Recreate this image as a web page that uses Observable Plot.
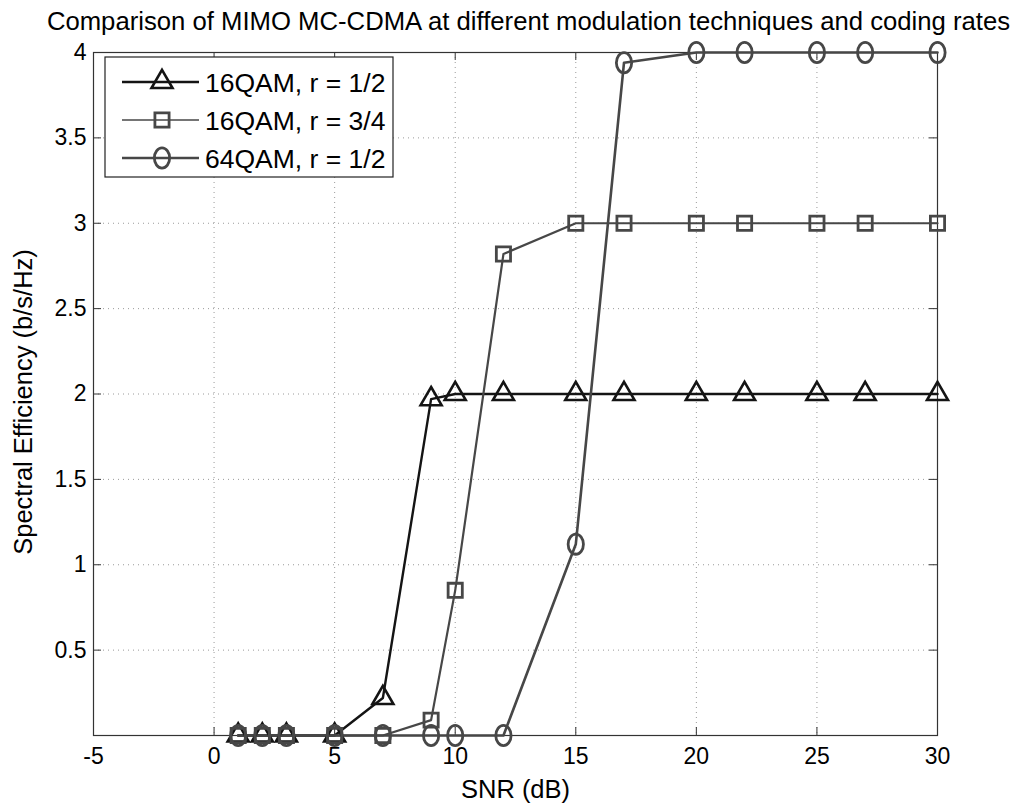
<!DOCTYPE html>
<html>
<head>
<meta charset="utf-8">
<script src="https://cdn.jsdelivr.net/npm/d3@7"></script>
<script src="https://cdn.jsdelivr.net/npm/@observablehq/plot@0.6"></script>
<style>
  html, body { margin: 0; padding: 0; background: #fff; }
  #chart svg { display: block; }
</style>
</head>
<body>
<div id="chart"></div>
<script>
const snr = [1, 2, 3, 5, 7, 9, 10, 12, 15, 17, 20, 22, 25, 27, 30];
const qam16_r12 = [0, 0, 0, 0, 0.22, 1.97, 2, 2, 2, 2, 2, 2, 2, 2, 2];
const qam16_r34 = [0, 0, 0, 0, 0, 0.09, 0.85, 2.82, 3, 3, 3, 3, 3, 3, 3];
const qam64_r12 = [0, 0, 0, 0, 0, 0, 0, 0, 1.12, 3.94, 4, 4, 4, 4, 4];
const seriesNames = ["16QAM, r = 1/2", "16QAM, r = 3/4", "64QAM, r = 1/2"];
const xTicks = [-5, 0, 5, 10, 15, 20, 25, 30];
const yTicks = [0.5, 1, 1.5, 2, 2.5, 3, 3.5, 4];
const yGrid = [0.5, 1, 1.5, 2, 2.5, 3, 3.5];
const titleText = "Comparison of MIMO MC-CDMA at different modulation techniques and coding rates";
const xLabel = "SNR (dB)";
const yLabel = "Spectral Efficiency (b/s/Hz)";

// Ellipse-shaped "circle" marker (slightly taller than wide, as in the reference)
const ellipse = {
  draw(ctx, size) {
    const r = Math.sqrt(size / Math.PI);
    const rx = r * 0.85, ry = r * 1.12, k = 0.5523;
    ctx.moveTo(rx, 0);
    ctx.bezierCurveTo(rx, ry * k, rx * k, ry, 0, ry);
    ctx.bezierCurveTo(-rx * k, ry, -rx, ry * k, -rx, 0);
    ctx.bezierCurveTo(-rx, -ry * k, -rx * k, -ry, 0, -ry);
    ctx.bezierCurveTo(rx * k, -ry, rx, -ry * k, rx, 0);
    ctx.closePath();
  }
};

const styles = [
  {stroke: "#141414", lw: 2.4, symbol: d3.symbolTriangle, r: 7.8, mw: 2.6},
  {stroke: "#474747", lw: 2.2, symbol: d3.symbolSquare, r: 8.0, mw: 2.8},
  {stroke: "#474747", lw: 2.6, symbol: ellipse, r: 9.0, mw: 2.8}
];
const seriesValues = [qam16_r12, qam16_r34, qam64_r12];
const tables = seriesValues.map((vals, i) => snr.map((x, j) => ({x, y: vals[j], s: seriesNames[i]})));

const W = 1024, H = 805;
const mL = 93, mR = 87, mT = 52, mB = 70;
const pw = W - mL - mR, ph = H - mT - mB;
const font = "'Liberation Sans', Arial, Helvetica, sans-serif";
const fmt = d => String(d);

const marks = [
  Plot.gridX(xTicks.slice(1, -1), {stroke: "#9a9a9a", strokeOpacity: 1, strokeWidth: 1, strokeDasharray: "1,4"}),
  Plot.gridY(yGrid, {stroke: "#9a9a9a", strokeOpacity: 1, strokeWidth: 1, strokeDasharray: "1,4"}),
  // inward tick marks on all four sides
  Plot.tickX(xTicks, {x: d => d, insetTop: ph - 8, stroke: "#333", strokeWidth: 1}),
  Plot.tickX(xTicks, {x: d => d, insetBottom: ph - 8, stroke: "#333", strokeWidth: 1}),
  Plot.tickY([0, ...yTicks], {y: d => d, insetRight: pw - 8, stroke: "#333", strokeWidth: 1}),
  Plot.tickY([0, ...yTicks], {y: d => d, insetLeft: pw - 8, stroke: "#333", strokeWidth: 1}),
  Plot.axisX(xTicks, {tickSize: 0, tickPadding: 12, fontSize: 23, tickFormat: fmt, label: null}),
  Plot.axisY(yTicks, {tickSize: 0, tickPadding: 7, fontSize: 23, tickFormat: fmt, label: null}),
  Plot.frame({stroke: "#333", strokeWidth: 1.2}),
];
tables.forEach((t, i) => {
  const s = styles[i];
  marks.push(Plot.line(t, {x: "x", y: "y", stroke: s.stroke, strokeWidth: s.lw}));
});
tables.forEach((t, i) => {
  const s = styles[i];
  marks.push(Plot.dot(t, {x: "x", y: "y", symbol: () => s.symbol, r: s.r, stroke: s.stroke, strokeWidth: s.mw, fill: "none"}));
});
marks.push(
  Plot.text([titleText], {frameAnchor: "top", textAnchor: "middle", lineAnchor: "middle", dx: 13, dy: -31, fontSize: 25.7, fill: "#000"}),
  Plot.text([xLabel], {frameAnchor: "bottom", textAnchor: "middle", lineAnchor: "middle", dy: 54, fontSize: 25.5, fill: "#000"}),
  Plot.text([yLabel], {frameAnchor: "left", textAnchor: "middle", lineAnchor: "middle", dx: -70, dy: 8, rotate: -90, fontSize: 25.5, fill: "#000"})
);

const chart = Plot.plot({
  width: W, height: H,
  marginLeft: mL, marginRight: mR, marginTop: mT, marginBottom: mB,
  style: {fontFamily: font, color: "#000", background: "#fff", overflow: "visible"},
  x: {domain: [-5, 30], label: null},
  y: {domain: [0, 4], label: null},
  symbol: {type: "identity"},
  marks
});
document.getElementById("chart").appendChild(chart);

// Legend box drawn inside the SVG
const svg = d3.select(chart);
const lg = svg.append("g").attr("font-family", font).attr("text-anchor", "start");
lg.append("rect").attr("x", 105).attr("y", 57).attr("width", 288).attr("height", 120)
  .attr("fill", "#fff").attr("stroke", "#222").attr("stroke-width", 1.2);
seriesNames.forEach((name, i) => {
  const s = styles[i];
  const yy = 82 + i * 38;
  lg.append("line").attr("x1", 122).attr("x2", 199).attr("y1", yy).attr("y2", yy)
    .attr("stroke", s.stroke).attr("stroke-width", i === 1 ? 1.4 : s.lw);
  lg.append("path").attr("transform", `translate(162,${yy})`)
    .attr("d", d3.symbol(s.symbol, Math.PI * s.r * s.r)())
    .attr("fill", "none").attr("stroke", s.stroke).attr("stroke-width", s.mw);
  lg.append("text").attr("x", 205).attr("y", yy).attr("dy", "0.36em")
    .attr("font-size", 26.5).attr("fill", "#000").attr("text-anchor", "start").text(name);
});
</script>
</body>
</html>
